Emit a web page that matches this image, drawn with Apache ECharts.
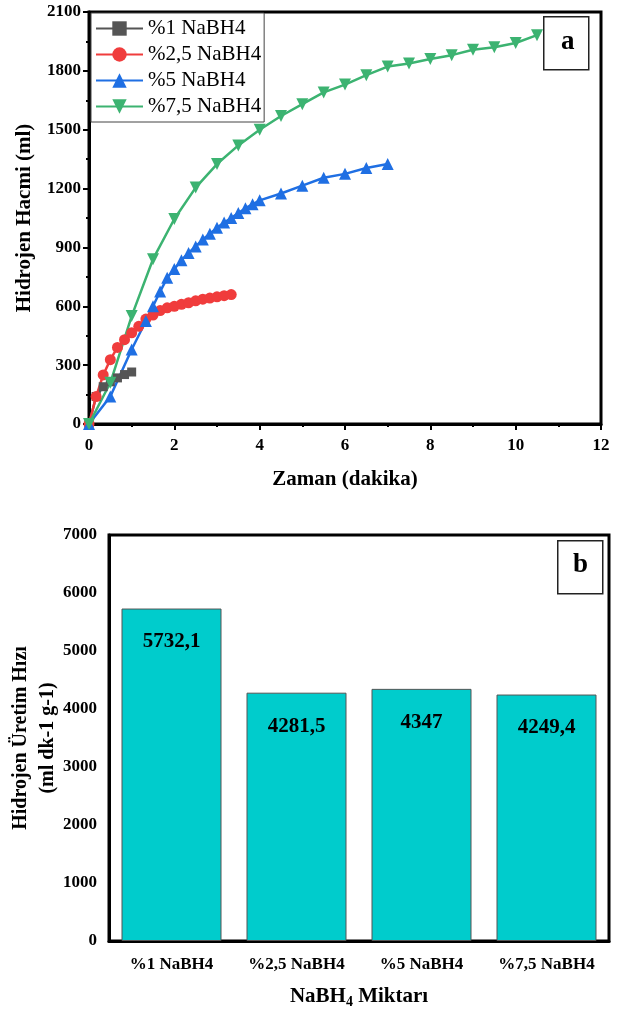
<!DOCTYPE html>
<html>
<head>
<meta charset="utf-8">
<script src="https://cdn.jsdelivr.net/npm/echarts@6/dist/echarts.min.js"></script>
<style>html,body{margin:0;padding:0;background:#fff}#c{width:619px;height:1012px}</style>
</head>
<body>
<div id="c"></div>
<script>
// ---- Chart a data ----
const seriesNames = ['%1 NaBH4', '%2,5 NaBH4', '%5 NaBH4', '%7,5 NaBH4'];
const grayX = [0, 0.167, 0.333, 0.5, 0.667, 0.833, 1.0];
const grayY = [0, 140, 190, 215, 235, 252, 265];
const redX = [0, 0.167, 0.333, 0.5, 0.667, 0.833, 1.0, 1.167, 1.333, 1.5, 1.667, 1.833, 2.0, 2.167, 2.333, 2.5, 2.667, 2.833, 3.0, 3.167, 3.333];
const redY = [0, 140, 250, 328, 390, 430, 465, 498, 535, 555, 578, 592, 600, 610, 618, 628, 636, 642, 648, 654, 660];
const blueX = [0, 0.5, 1.0, 1.333, 1.5, 1.667, 1.833, 2.0, 2.167, 2.333, 2.5, 2.667, 2.833, 3.0, 3.167, 3.333, 3.5, 3.667, 3.833, 4.0, 4.5, 5.0, 5.5, 6.0, 6.5, 7.0];
const blueY = [0, 140, 380, 525, 600, 675, 745, 790, 835, 872, 905, 940, 970, 1000, 1027, 1050, 1075, 1100, 1120, 1140, 1175, 1215, 1255, 1275, 1305, 1325];
const greenX = [0, 0.5, 1, 1.5, 2, 2.5, 3, 3.5, 4, 4.5, 5, 5.5, 6, 6.5, 7, 7.5, 8, 8.5, 9, 9.5, 10, 10.5];
const greenY = [0, 210, 550, 840, 1045, 1205, 1325, 1420, 1500, 1570, 1630, 1690, 1730, 1778, 1822, 1838, 1860, 1880, 1908, 1920, 1942, 1982];

// ---- Chart b data ----
const barCategories = ['%1 NaBH4', '%2,5 NaBH4', '%5 NaBH4', '%7,5 NaBH4'];
const barValues = [5732.1, 4281.5, 4347, 4249.4];

const colors = ['#555555', '#f03c3c', '#1f6fe3', '#3cb371'];
const FONT = 'Liberation Serif';

function pairs(xs, ys) { return xs.map((x, i) => [x, ys[i]]); }

const chart = echarts.init(document.getElementById('c'), null, {renderer: 'canvas'});

const axisLbl = {fontFamily: FONT, fontWeight: 'bold', fontSize: 17, color: '#000', formatter: v => String(v)};
const titleStyle = {fontFamily: FONT, fontWeight: 'bold', fontSize: 21, color: '#000'};

const option = {
  animation: false,
  backgroundColor: '#fff',
  grid: [
    {left: 89, top: 12, width: 512, height: 412, show: true, borderColor: '#000', borderWidth: 3, backgroundColor: 'transparent', containLabel: false, outerBoundsMode: 'none'},
    {left: 109, top: 535, width: 500, height: 406, show: true, borderColor: '#000', borderWidth: 3, backgroundColor: 'transparent', containLabel: false, outerBoundsMode: 'none'}
  ],
  legend: {
    data: seriesNames,
    orient: 'vertical',
    left: 91, top: 13,
    padding: [5, 3, 5, 4],
    itemGap: 5,
    itemWidth: 47,
    itemHeight: 18,
    backgroundColor: '#fff',
    borderColor: '#444',
    borderWidth: 1,
    textStyle: {fontFamily: FONT, fontSize: 21, color: '#000'}
  },
  xAxis: [
    {
      type: 'value', gridIndex: 0, min: 0, max: 12, interval: 2,
      name: 'Zaman (dakika)', nameLocation: 'middle', nameGap: 45,
      nameTextStyle: titleStyle,
      axisLine: {show: true, lineStyle: {color: '#000', width: 3}},
      axisTick: {show: true, inside: false, length: 6, lineStyle: {color: '#000', width: 2}},
      minorTick: {show: true, splitNumber: 2, length: 3, lineStyle: {color: '#000', width: 2}},
      splitLine: {show: false},
      axisLabel: Object.assign({}, axisLbl, {margin: 13})
    },
    {
      type: 'category', gridIndex: 1, data: barCategories,
      name: 'NaBH{sub|4} Miktarı', nameLocation: 'middle', nameGap: 44,
      nameTextStyle: Object.assign({}, titleStyle, {
        rich: {sub: {fontFamily: FONT, fontWeight: 'bold', fontSize: 14, verticalAlign: 'bottom', padding: [10, 0, 0, 0]}}}),
      axisLine: {show: true, lineStyle: {color: '#000', width: 3}},
      axisTick: {show: false},
      splitLine: {show: false},
      axisLabel: {fontFamily: FONT, fontWeight: 'bold', fontSize: 17, color: '#000', margin: 15, interval: 0, hideOverlap: false}
    }
  ],
  yAxis: [
    {
      type: 'value', gridIndex: 0, min: 0, max: 2100, interval: 300,
      name: 'Hidrojen Hacmi (ml)', nameLocation: 'middle', nameGap: 54,
      nameTextStyle: titleStyle,
      axisLine: {show: true, lineStyle: {color: '#000', width: 3}},
      axisTick: {show: true, inside: false, length: 6, lineStyle: {color: '#000', width: 2}},
      minorTick: {show: true, splitNumber: 2, length: 3, lineStyle: {color: '#000', width: 2}},
      splitLine: {show: false},
      axisLabel: Object.assign({}, axisLbl, {margin: 8})
    },
    {
      type: 'value', gridIndex: 1, min: 0, max: 7000, interval: 1000,
      name: 'Hidrojen Üretim Hızı\n(ml dk-1 g-1)', nameLocation: 'middle', nameGap: 48,
      nameMoveOverlap: false,
      nameTextStyle: Object.assign({}, titleStyle, {fontSize: 20, lineHeight: 27}),
      axisLine: {show: true, lineStyle: {color: '#000', width: 3}},
      axisTick: {show: false},
      splitLine: {show: false},
      axisLabel: Object.assign({}, axisLbl, {margin: 12})
    }
  ],
  series: [
    {name: seriesNames[0], type: 'line', xAxisIndex: 0, yAxisIndex: 0, data: pairs(grayX, grayY),
     symbol: 'rect', symbolSize: 9, color: colors[0], lineStyle: {width: 2.5}},
    {name: seriesNames[1], type: 'line', xAxisIndex: 0, yAxisIndex: 0, data: pairs(redX, redY),
     symbol: 'circle', symbolSize: 11, color: colors[1], lineStyle: {width: 2.5}},
    {name: seriesNames[2], type: 'line', xAxisIndex: 0, yAxisIndex: 0, data: pairs(blueX, blueY),
     symbol: 'triangle', symbolSize: 12, color: colors[2], lineStyle: {width: 2.5}},
    {name: seriesNames[3], type: 'line', xAxisIndex: 0, yAxisIndex: 0, data: pairs(greenX, greenY),
     symbol: 'triangle', symbolRotate: 180, symbolSize: 12, color: colors[3], lineStyle: {width: 2.5}},
    {name: 'rate', type: 'bar', xAxisIndex: 1, yAxisIndex: 1, data: barValues,
     barWidth: 100,
     itemStyle: {color: '#00cccc', borderColor: '#555', borderWidth: 1},
     label: {show: true, position: 'insideTop', distance: 23,
       fontFamily: FONT, fontWeight: 'bold', fontSize: 21, color: '#000',
       formatter: p => String(p.value).replace('.', ',')}}
  ],
  graphic: [
    {type: 'rect', left: 543, top: 16, shape: {width: 45, height: 53}, style: {fill: '#fff', stroke: '#222', lineWidth: 1.5}, z: 100},
    {type: 'text', left: 561, top: 29, style: {text: 'a', font: 'bold 27px "Liberation Serif"', fill: '#000'}, z: 101},
    {type: 'rect', left: 557, top: 540, shape: {width: 45, height: 53}, style: {fill: '#fff', stroke: '#222', lineWidth: 1.5}, z: 100},
    {type: 'text', left: 573, top: 552, style: {text: 'b', font: 'bold 27px "Liberation Serif"', fill: '#000'}, z: 101}
  ]
};
chart.setOption(option);
</script>
</body>
</html>
